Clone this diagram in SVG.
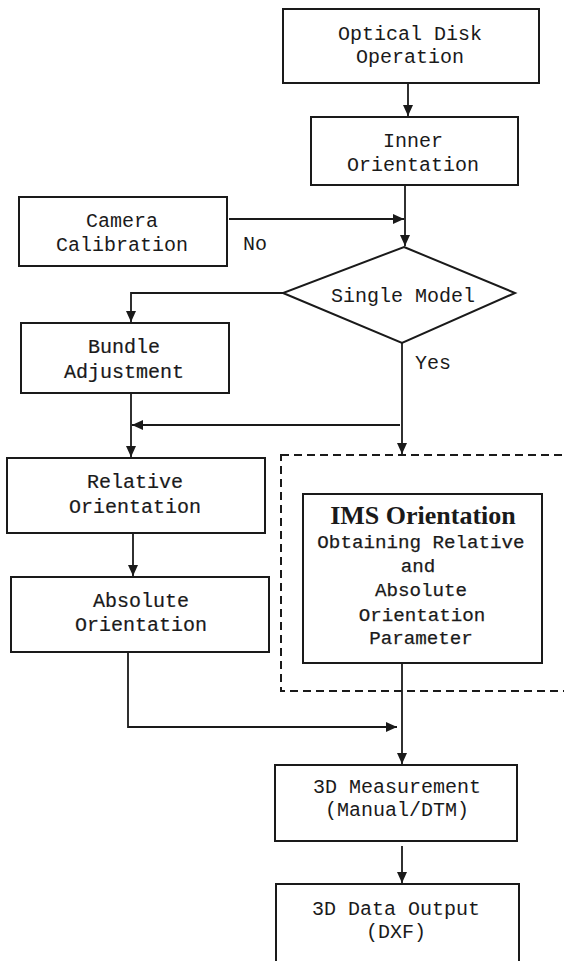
<svg xmlns="http://www.w3.org/2000/svg" width="564" height="961" viewBox="0 0 564 961">
<defs>
<style>
.box{fill:#fff;stroke:#1a1a1a;stroke-width:2}
.t{font-family:"Liberation Mono","DejaVu Sans Mono",monospace;font-size:20px;fill:#1a1a1a;text-anchor:middle}
.tb{stroke:#1a1a1a;stroke-width:0.2}
.lbl{font-family:"Liberation Mono","DejaVu Sans Mono",monospace;font-size:20px;fill:#1a1a1a}
.ims{font-family:"Liberation Serif","Times New Roman",serif;font-size:26px;font-weight:bold;fill:#1a1a1a;text-anchor:middle}
.sub{font-family:"Liberation Mono","DejaVu Sans Mono",monospace;font-size:19.2px;fill:#1a1a1a;text-anchor:middle;stroke:#1a1a1a;stroke-width:0.25}
.ln{fill:none;stroke:#1a1a1a;stroke-width:1.8}
.dash{fill:none;stroke:#1a1a1a;stroke-width:2;stroke-dasharray:8 5}
</style>
<marker id="ah" markerUnits="userSpaceOnUse" markerWidth="12" markerHeight="10" refX="11" refY="5" orient="auto">
<path d="M0,0 L11,5 L0,10 z" fill="#1a1a1a"/>
</marker>
</defs>
<rect width="564" height="961" fill="#fff"/>

<g id="connectors">
<path class="ln" d="M408,83 V116" marker-end="url(#ah)"/>
<path class="ln" d="M405,185 V246" marker-end="url(#ah)"/>
<path class="ln" d="M229,219 H404" marker-end="url(#ah)"/>
<path class="ln" d="M283,293 H131 V322" marker-end="url(#ah)"/>
<path class="ln" d="M131,393 V457" marker-end="url(#ah)"/>
<path class="ln" d="M402,343 V454" marker-end="url(#ah)"/>
<path class="ln" d="M400,425 H132" marker-end="url(#ah)"/>
<path class="ln" d="M133,533 V576" marker-end="url(#ah)"/>
<path class="ln" d="M128,652 V727 H397" marker-end="url(#ah)"/>
<path class="ln" d="M402,663 V764" marker-end="url(#ah)"/>
<path class="ln" d="M402,846 V883" marker-end="url(#ah)"/>
<text class="lbl" x="243" y="250">No</text>
<text class="lbl" x="415" y="369">Yes</text>
</g>

<g id="optical-disk">
<rect class="box" x="283" y="9" width="256" height="74"/>
<text class="t" x="410" y="40">Optical Disk</text>
<text class="t" x="410" y="63">Operation</text>
</g>

<g id="inner-orientation">
<rect class="box" x="311" y="117" width="207" height="68"/>
<text class="t" x="413" y="147">Inner</text>
<text class="t" x="413" y="171">Orientation</text>
</g>

<g id="camera-calibration">
<rect class="box" x="19" y="197" width="208" height="69"/>
<text class="t" x="122" y="227">Camera</text>
<text class="t" x="122" y="251">Calibration</text>
</g>

<g id="single-model">
<polygon class="box" points="404,247 515,293 402,343 283,293"/>
<text class="t" x="403" y="302">Single Model</text>
</g>

<g id="bundle-adjustment">
<rect class="box" x="21" y="323" width="208" height="70"/>
<text class="t tb" x="124" y="353">Bundle</text>
<text class="t tb" x="124" y="378">Adjustment</text>
</g>

<g id="relative-orientation">
<rect class="box" x="7" y="458" width="258" height="75"/>
<text class="t tb" x="135" y="488">Relative</text>
<text class="t tb" x="135" y="513">Orientation</text>
</g>

<g id="absolute-orientation">
<rect class="box" x="11" y="577" width="258" height="75"/>
<text class="t tb" x="141" y="607">Absolute</text>
<text class="t tb" x="141" y="631">Orientation</text>
</g>

<g id="ims-group">
<rect class="dash" x="281" y="455" width="300" height="236"/>
</g>

<g id="ims-orientation">
<rect class="box" x="303" y="494" width="239" height="169"/>
<text class="ims" x="423" y="524">IMS Orientation</text>
<text class="sub" x="421" y="548">Obtaining Relative</text>
<text class="sub" x="418" y="572">and</text>
<text class="sub" x="421" y="596">Absolute</text>
<text class="sub" x="422" y="621">Orientation</text>
<text class="sub" x="421" y="644">Parameter</text>
</g>

<g id="measurement">
<rect class="box" x="275" y="765" width="242" height="76"/>
<text class="t" x="397" y="793">3D Measurement</text>
<text class="t" x="397" y="816">(Manual/DTM)</text>
</g>

<g id="data-output">
<rect class="box" x="276" y="884" width="243" height="100"/>
<text class="t" x="396" y="915">3D Data Output</text>
<text class="t" x="396" y="938">(DXF)</text>
</g>
</svg>
